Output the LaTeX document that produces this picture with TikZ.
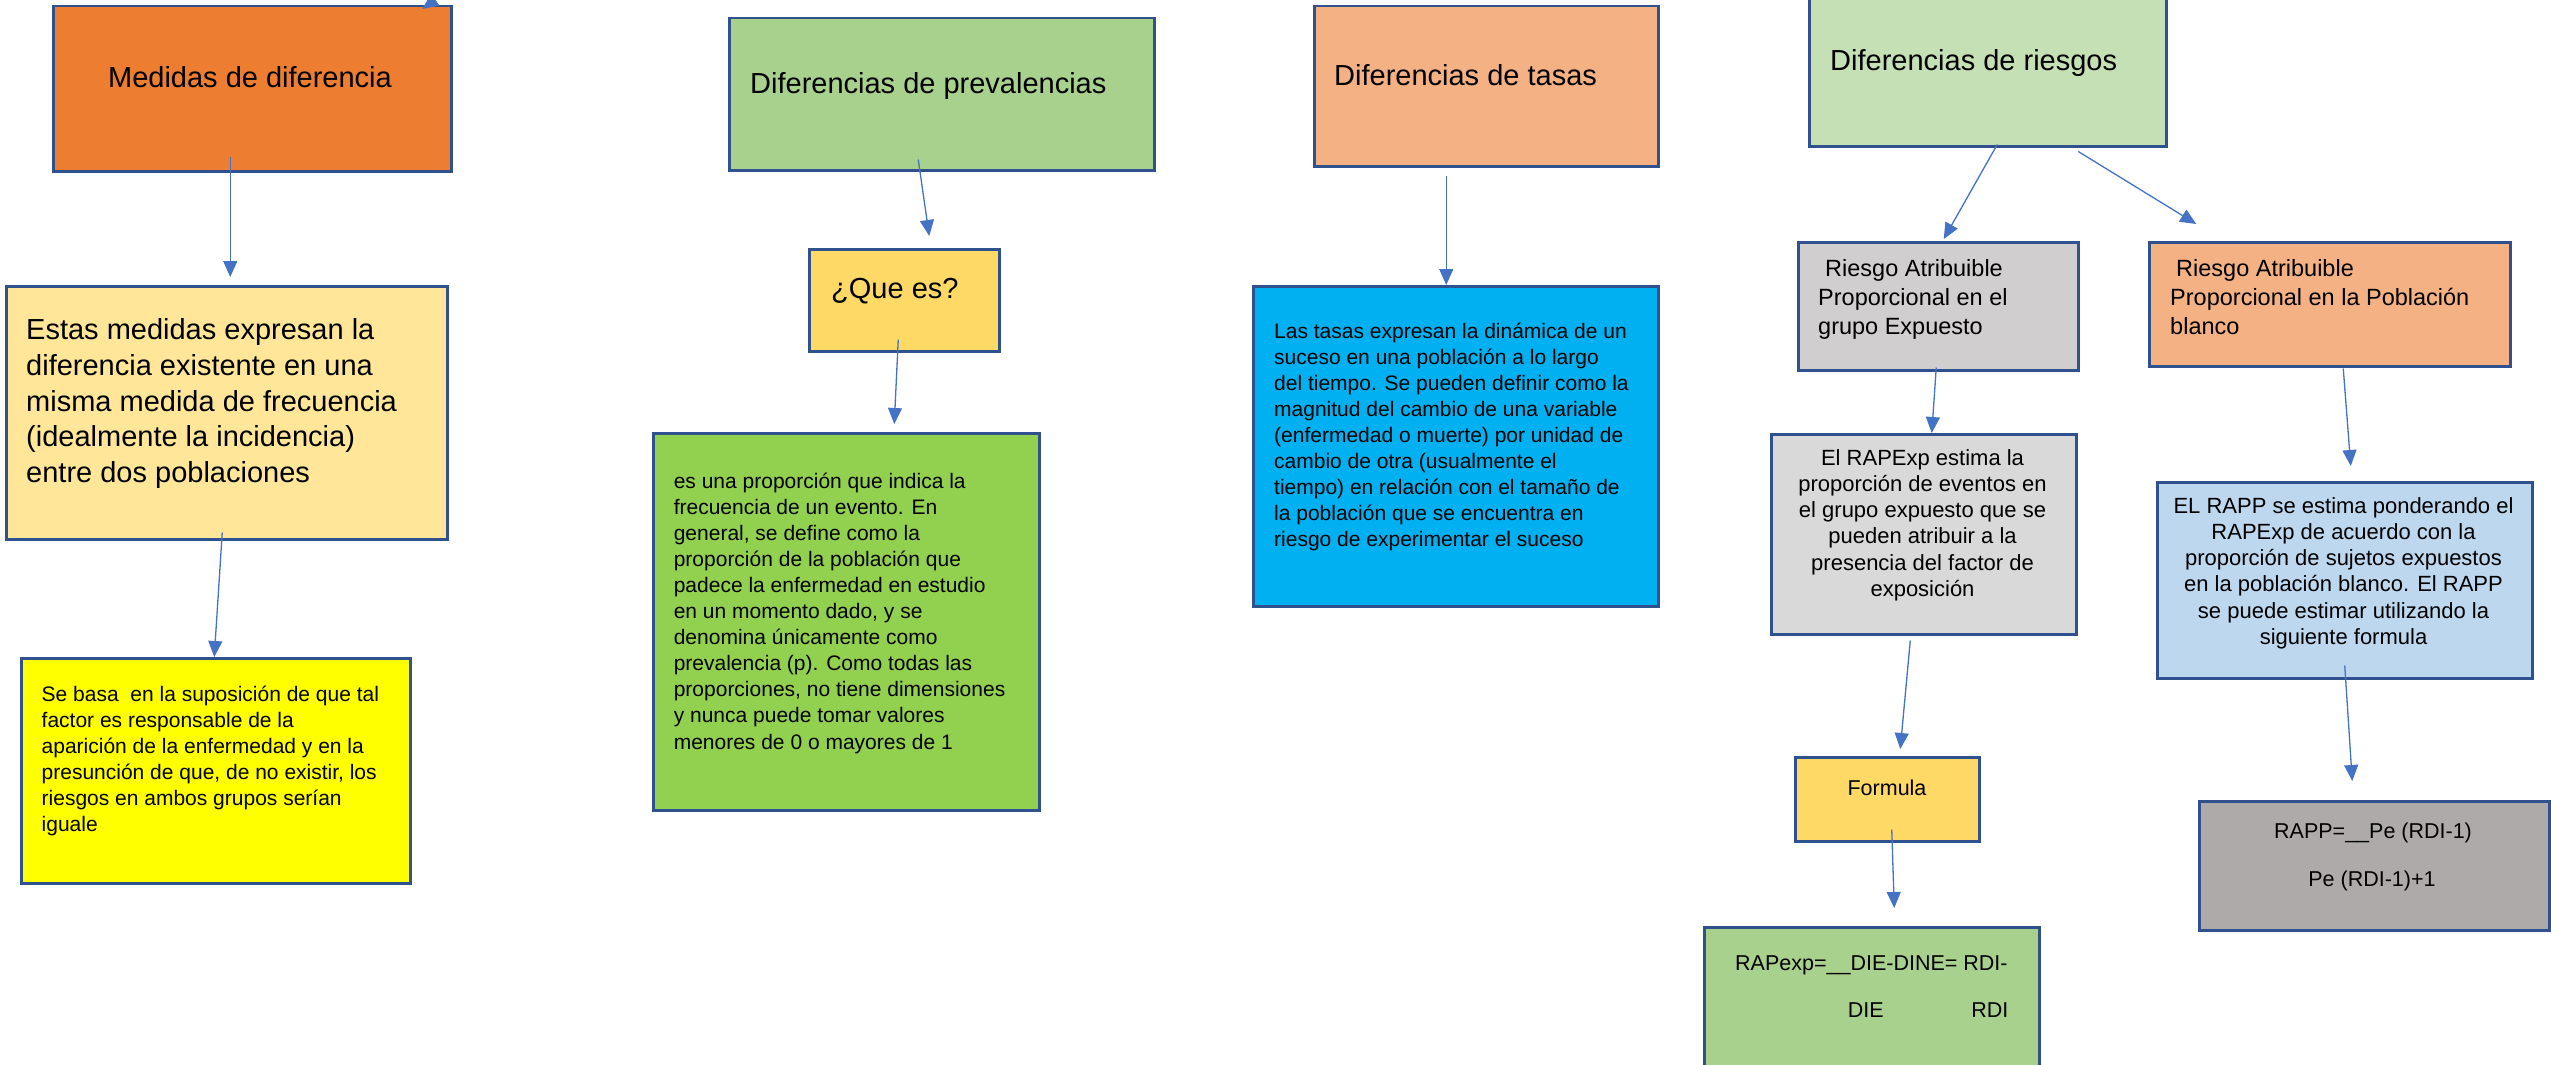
\documentclass[tikz,border=0pt]{standalone}
\usepackage{fontspec}
\setmainfont{Liberation Sans}
\usetikzlibrary{arrows.meta}
\definecolor{bord}{HTML}{2F528F}
\definecolor{arrc}{HTML}{4472C4}
\definecolor{cMed}{HTML}{ED7D31}
\definecolor{cEstas}{HTML}{FFE699}
\definecolor{cYel}{HTML}{FFFF00}
\definecolor{cPrev}{HTML}{A9D18E}
\definecolor{cQue}{HTML}{FFD966}
\definecolor{cGreen}{HTML}{92D050}
\definecolor{cTasa}{HTML}{F4B183}
\definecolor{cBlue}{HTML}{00B0F0}
\definecolor{cRies}{HTML}{C5E0B4}
\definecolor{cGrayA}{HTML}{D0CECE}
\definecolor{cGrayB}{HTML}{D9D9D9}
\definecolor{cLBlue}{HTML}{BDD7EE}
\definecolor{cGrayC}{HTML}{AEAAAA}
\begin{document}
\begin{tikzpicture}[x=1pt,y=-1pt,
  box/.style={draw=bord, line width=2.5pt, inner sep=0pt, anchor=north west},
  arr/.style={draw=arrc, line width=1.3pt, -{Triangle[length=16pt,width=14pt]}},
  ttl/.style={inner sep=0pt, font=\fontsize{29}{35.7}\selectfont},
  bigtxt/.style={inner sep=0pt, align=left, anchor=north west, font=\fontsize{29}{35.7}\selectfont},
  bodytxt/.style={inner sep=0pt, align=left, anchor=north west, font=\fontsize{21}{26.1}\selectfont},
  midtxt/.style={inner sep=0pt, align=left, anchor=north west, font=\fontsize{23.5}{29}\selectfont},
  ctrtxt/.style={inner sep=0pt, align=center, anchor=north, font=\fontsize{22}{26.2}\selectfont},
  smalltxt/.style={inner sep=0pt, font=\fontsize{21.5}{26}\selectfont}]
\useasboundingbox (0,0) rectangle (2551,1065);

% boxes
\node[box, fill=cMed, minimum width=398pt, minimum height=165pt] (med) at (52,5) {};
\node[box, fill=cEstas, minimum width=441pt, minimum height=253pt] (estas) at (5,285) {};
\node[box, fill=cYel, minimum width=389pt, minimum height=225pt] (sebasa) at (20,657) {};
\node[box, fill=cPrev, minimum width=425pt, minimum height=152pt] (prev) at (728,17) {};
\node[box, fill=cQue, minimum width=190pt, minimum height=102pt] (que) at (808,248) {};
\node[box, fill=cGreen, minimum width=386pt, minimum height=377pt] (gbody) at (652,432) {};
\node[box, fill=cTasa, minimum width=344pt, minimum height=160pt] (tasas) at (1313,5) {};
\node[box, fill=cBlue, minimum width=405pt, minimum height=320pt] (blue) at (1252,285) {};
\node[box, fill=cRies, minimum width=357pt, minimum height=150pt] (ries) at (1808,-5) {};
\node[box, fill=cGrayA, minimum width=280pt, minimum height=128pt] (raexp) at (1797,241) {};
\node[box, fill=cTasa, minimum width=361pt, minimum height=124pt] (rapob) at (2148,241) {};
\node[box, fill=cGrayB, minimum width=305pt, minimum height=200pt] (rapexp) at (1770,433) {};
\node[box, fill=cQue, minimum width=184pt, minimum height=84pt] (formula) at (1794,756) {};
\node[box, fill=cPrev, minimum width=335pt, minimum height=154pt] (rapexpf) at (1703,926) {};
\node[box, fill=cLBlue, minimum width=375pt, minimum height=196pt] (rapp) at (2156,481) {};
\node[box, fill=cGrayC, minimum width=350pt, minimum height=129pt] (rappf) at (2198,800) {};

% texts
\node[ttl, anchor=base] (med-t) at (250,87.4) {Medidas de diferencia};
\node[bigtxt] (estas-t) at (26,318.6) {Estas medidas expresan la\\diferencia existente en una\\misma medida de frecuencia\\(idealmente la incidencia)\\entre dos poblaciones};
\node[bodytxt] (sebasa-t) at (41.5,685.4) {Se basa\ \ en la suposición de que tal\\factor es responsable de la\\aparición de la enfermedad y en la\\presunción de que, de no existir, los\\riesgos en ambos grupos serían\\iguale};
\node[ttl, anchor=base west] (prev-t) at (750,93.4) {Diferencias de prevalencias};
\node[ttl, anchor=base west] (que-t) at (831,298.4) {¿Que es?};
\node[bodytxt] (gbody-t) at (673.6,472.4) {es una proporción que indica la\\frecuencia de un evento. En\\general, se define como la\\proporción de la población que\\padece la enfermedad en estudio\\en un momento dado, y se\\denomina únicamente como\\prevalencia (p). Como todas las\\proporciones, no tiene dimensiones\\y nunca puede tomar valores\\menores de 0 o mayores de 1};
\node[ttl, anchor=base west] (tasas-t) at (1334,85.4) {Diferencias de tasas};
\node[bodytxt] (blue-t) at (1274,322.4) {Las tasas expresan la dinámica de un\\suceso en una población a lo largo\\del tiempo. Se pueden definir como la\\magnitud del cambio de una variable\\(enfermedad o muerte) por unidad de\\cambio de otra (usualmente el\\tiempo) en relación con el tamaño de\\la población que se encuentra en\\riesgo de experimentar el suceso};
\node[ttl, anchor=base west] (ries-t) at (1830,70.4) {Diferencias de riesgos};
\node[midtxt] (raexp-t) at (1818,259.5) {\hspace*{7pt}Riesgo Atribuible\\Proporcional en el\\grupo Expuesto};
\node[midtxt] (rapob-t) at (2170,259.5) {\hspace*{6pt}Riesgo Atribuible\\Proporcional en la Población\\blanco};
\node[ctrtxt] (rapexp-t) at (1922.5,449.1) {El RAPExp estima la\\proporción de eventos en\\el grupo expuesto que se\\pueden atribuir a la\\presencia del factor de\\exposición};
\node[smalltxt, anchor=base] (formula-t) at (1887,795.6) {Formula};
\node[smalltxt, anchor=base west] (rapexpf-t1) at (1735,970.7) {RAPexp=\_\_DIE-DINE= RDI-};
\node[smalltxt, anchor=base west] (rapexpf-t2) at (1847.6,1017.7) {DIE\hspace{87.6pt}RDI};
\node[ctrtxt] (rapp-t) at (2343.5,497.1) {EL RAPP se estima ponderando el\\RAPExp de acuerdo con la\\proporción de sujetos expuestos\\en la población blanco. El RAPP\\se puede estimar utilizando la\\siguiente formula};
\node[smalltxt, anchor=base] (rappf-t1) at (2373,838.6) {RAPP=\_\_Pe (RDI-1)};
\node[smalltxt, anchor=base] (rappf-t2) at (2372,886.6) {Pe (RDI-1)+1};

% connectors
\coordinate (topfree) at (470,-25);
\draw[arr] (topfree) -- ([xshift=170pt,yshift=-4pt]med.north);
\draw[arr] ([xshift=-22pt,yshift=16pt]med.south) -- ([xshift=3.5pt,yshift=8pt]estas.north);
\draw[arr] ([xshift=-4.5pt,yshift=8pt]estas.south) -- ([xshift=-1.5pt]sebasa.north);
\draw[arr] ([xshift=-23.5pt,yshift=12pt]prev.south) -- ([xshift=25pt,yshift=12pt]que.north);
\draw[arr] ([xshift=-6pt,yshift=13pt]que.south) -- ([xshift=48pt,yshift=8pt]gbody.north);
\draw[arr] ([xshift=-40pt,yshift=-8pt]tasas.south) -- ([xshift=-9.5pt]blue.north);
\draw[arr] ([xshift=9.5pt,yshift=3pt]ries.south) -- ([xshift=5.5pt,yshift=2pt]raexp.north);
\draw[arr] ([xshift=90.5pt,yshift=-4pt]ries.south) -- ([xshift=-133.5pt,yshift=17pt]rapob.north);
\draw[arr] ([xshift=-2pt,yshift=4pt]raexp.south) -- ([xshift=8pt]rapexp.north);
\draw[arr] ([xshift=-13.5pt,yshift=-5pt]rapexp.south) -- ([xshift=13pt,yshift=7pt]formula.north);
\draw[arr] ([xshift=4.5pt,yshift=13pt]formula.south) -- ([xshift=22.5pt,yshift=18pt]rapexpf.north);
\draw[arr] ([xshift=13.5pt,yshift=-1pt]rapob.south) -- ([xshift=6pt,yshift=15pt]rapp.north);
\draw[arr] ([yshift=14pt]rapp.south) -- ([xshift=-22pt,yshift=19pt]rappf.north);
\end{tikzpicture}
\end{document}
